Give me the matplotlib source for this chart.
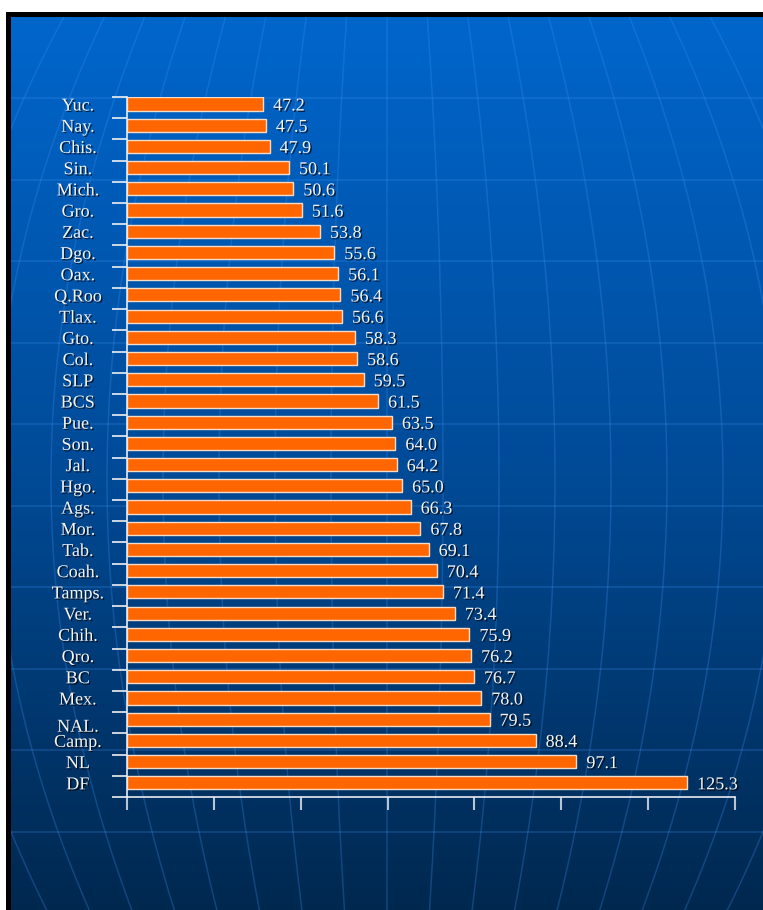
import numpy as np
import matplotlib.pyplot as plt
import matplotlib.patheffects as pe
from matplotlib.patches import Rectangle
from matplotlib.colors import LinearSegmentedColormap

# States, top to bottom, and their values
states = ["Yuc.", "Nay.", "Chis.", "Sin.", "Mich.", "Gro.", "Zac.", "Dgo.",
          "Oax.", "Q.Roo", "Tlax.", "Gto.", "Col.", "SLP", "BCS", "Pue.",
          "Son.", "Jal.", "Hgo.", "Ags.", "Mor.", "Tab.", "Coah.", "Tamps.",
          "Ver.", "Chih.", "Qro.", "BC", "Mex.", "NAL.", "Camp.", "NL", "DF"]
values = [47.2, 47.5, 47.9, 50.1, 50.6, 51.6, 53.8, 55.6,
          56.1, 56.4, 56.6, 58.3, 58.6, 59.5, 61.5, 63.5,
          64.0, 64.2, 65.0, 66.3, 67.8, 69.1, 70.4, 71.4,
          73.4, 75.9, 76.2, 76.7, 78.0, 79.5, 88.4, 97.1, 125.3]

W, H = 763, 910
fig = plt.figure(figsize=(W / 100, H / 100), dpi=100)
fig.patch.set_facecolor("white")

# black frame behind the slide background
fig.add_artist(Rectangle((6 / W, 0), 1, (H - 12) / H, transform=fig.transFigure,
                         facecolor="black", edgecolor="none", zorder=0))

# slide background: blue gradient with a faint globe grid
bg = fig.add_axes([11 / W, 0, (W - 11) / W, (H - 17) / H], zorder=1)
bg.set_xlim(11, W)
bg.set_ylim(H, 17)
bg.axis("off")
cmap = LinearSegmentedColormap.from_list(
    "slide", [(0, "#0066cc"), (0.5, "#004b98"), (1, "#00284f")])
grad = np.linspace(0, 1, 256).reshape(-1, 1)
bg.imshow(grad, cmap=cmap, aspect="auto", extent=(11, W, H, 17))

grid_kw = dict(color="#3f90f0", alpha=0.28, lw=1.1)
for yy in 98 + 81.5 * np.arange(10):
    bg.axhline(yy, **grid_kw)
yy = np.linspace(17, H, 200)
for k in range(-8, 9):
    xx = 387 + 56 * k * (1 - 1.3e-6 * (yy - 480) ** 2)
    bg.plot(xx, yy, **grid_kw)

# chart area
ax = fig.add_axes([127 / W, 1 - 797 / H, (735 - 127) / W, (797 - 97) / H], zorder=2)
ax.patch.set_alpha(0)

x_lo, x_hi = 34.5, 139.9
ax.set_xscale("log")
ax.set_xlim(x_lo, x_hi)
ax.set_ylim(len(states), 0)

pos = np.arange(len(states))
ax.barh(pos + 0.02, np.array(values) - x_lo, height=0.62, align="edge", left=x_lo,
        color="#ff6600", edgecolor="#f6dcc6", linewidth=1)

shadow = [pe.SimplePatchShadow(offset=(1, -1), shadow_rgbFace="black", alpha=0.7),
          pe.Normal()]
font = dict(family="Liberation Serif", size=13, color="#f4f4f4")

for i, (name, v) in enumerate(zip(states, values)):
    dy = -6 if name == "NAL." else 0
    ax.annotate(name, xy=(-0.081, i + 0.33), xycoords=ax.get_yaxis_transform(),
                xytext=(0, dy), textcoords="offset pixels",
                ha="center", va="center_baseline", path_effects=shadow, **font)
    ax.annotate(f"{v:.1f}", xy=(v, i + 0.33), xytext=(10, 0),
                textcoords="offset pixels", ha="left", va="center_baseline",
                path_effects=shadow, **font)

# ticks: category boundaries on y, evenly spaced marks on x
ax.set_yticks(np.arange(len(states) + 1))
ax.set_yticklabels([])
ax.set_xticks(np.geomspace(x_lo, x_hi, 8))
ax.set_xticks([], minor=True)
ax.set_xticklabels([])
ax.tick_params(axis="y", length=11, width=1.2, color="#f0f0f0", direction="out")
ax.tick_params(axis="x", length=9.5, width=1.5, color="#b8c4d2", direction="out")

for side in ["top", "right"]:
    ax.spines[side].set_visible(False)
for side in ["left", "bottom"]:
    ax.spines[side].set_color("#e8ecf2")
    ax.spines[side].set_linewidth(1.2)

fig.savefig("out.png", dpi=100)
